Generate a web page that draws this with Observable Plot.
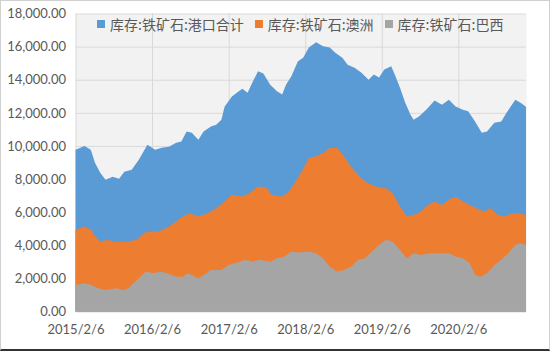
<!DOCTYPE html>
<html>
<head>
<meta charset="utf-8">
<script src="https://cdn.jsdelivr.net/npm/d3@7"></script>
<script src="https://cdn.jsdelivr.net/npm/@observablehq/plot@0.6"></script>
<style>
  html, body { margin: 0; padding: 0; background: #fff; }
  #wrap { position: relative; width: 550px; height: 351px; background: #fff; overflow: hidden; }
  #wrap svg { position: absolute; left: 0; top: 0; }
  #legend { position: absolute; left: 97px; top: 16px; display: flex; align-items: center;
            font-family: "Noto Sans CJK SC", sans-serif; font-size: 14px; line-height: 16px; color: #595959; white-space: nowrap; }
  #legend .item { display: flex; align-items: center; margin-right: 11px; }
  #legend .sw { width: 8px; height: 8px; margin-right: 5px; }
  #border { position: absolute; left: 0; top: 0; width: 550px; height: 351px; box-sizing: border-box;
            border: 1px solid #d0d0d0; border-bottom: 2px solid #333; pointer-events: none; }
</style>
</head>
<body>
<div id="wrap"><div id="legend"></div><div id="border"></div></div>
<script>
const seriesNames = ["库存:铁矿石:港口合计", "库存:铁矿石:澳洲", "库存:铁矿石:巴西"];
const seriesColors = ["#5b9bd5", "#ed7d31", "#a5a5a5"];

const portDates = ["2015-02-06","2015-03-21","2015-04-20","2015-05-10","2015-06-04","2015-06-29","2015-08-02","2015-09-02","2015-09-27","2015-11-01","2015-12-05","2016-01-15","2016-02-21","2016-03-23","2016-04-27","2016-05-31","2016-06-25","2016-07-20","2016-08-14","2016-09-14","2016-10-09","2016-11-13","2016-12-08","2017-01-02","2017-01-17","2017-02-21","2017-03-26","2017-04-12","2017-05-07","2017-06-01","2017-06-26","2017-07-21","2017-08-23","2017-09-24","2017-10-19","2017-11-06","2017-12-01","2018-01-02","2018-01-27","2018-02-23","2018-03-30","2018-05-02","2018-06-03","2018-06-28","2018-08-02","2018-08-27","2018-09-29","2018-10-31","2018-12-05","2018-12-30","2019-01-24","2019-02-18","2019-03-23","2019-04-09","2019-05-04","2019-05-29","2019-06-23","2019-07-08","2019-08-02","2019-09-06","2019-10-16","2019-11-20","2019-12-23","2020-01-24","2020-02-28","2020-03-24","2020-04-26","2020-05-28","2020-06-22","2020-07-27","2020-08-29","2020-09-23","2020-11-04","2020-11-29","2020-12-25"];
const portValues = [9770,10000,9770,8980,8380,7960,8140,8020,8440,8560,9160,10070,9770,9890,9950,10190,10270,10880,10800,10370,10880,11180,11280,11580,12370,12980,13300,13460,13220,13900,14510,14370,13700,13300,13100,13700,14200,15110,15330,15940,16260,16020,15940,15640,15330,14910,14730,14430,14000,14310,14130,14610,14810,14310,13520,12610,11890,11580,11780,12190,12740,12490,12790,12390,12190,12090,11480,10800,10880,11400,11480,12000,12790,12610,12370];

const ausDates = ["2015-02-06","2015-03-21","2015-04-23","2015-05-10","2015-06-04","2015-07-07","2015-08-18","2015-10-07","2015-11-26","2015-12-30","2016-01-24","2016-03-08","2016-04-27","2016-05-31","2016-07-01","2016-08-06","2016-09-08","2016-10-09","2016-11-29","2017-01-17","2017-02-21","2017-04-12","2017-05-15","2017-06-26","2017-08-05","2017-08-30","2017-10-12","2017-11-13","2017-12-18","2018-01-20","2018-02-23","2018-03-30","2018-05-02","2018-06-03","2018-07-08","2018-08-10","2018-09-11","2018-10-16","2018-11-18","2019-01-07","2019-02-26","2019-03-30","2019-05-04","2019-06-06","2019-07-08","2019-08-12","2019-09-14","2019-10-16","2019-11-20","2019-12-23","2020-01-24","2020-02-28","2020-04-01","2020-05-03","2020-06-07","2020-07-10","2020-08-11","2020-09-15","2020-10-18","2020-11-19","2020-12-25"];
const ausValues = [4930,5130,4930,4530,4220,4330,4220,4220,4330,4740,4830,4830,5130,5430,5740,5940,5740,5840,6140,6640,7050,6950,7150,7550,7470,7050,6950,7150,7760,8460,9270,9370,9570,9870,9870,9370,8760,8260,7850,7550,7450,7150,6340,5740,5840,6040,6440,6640,6440,6750,6950,6640,6440,6240,6040,6240,5840,5740,5940,5940,5840];

const braDates = ["2015-02-06","2015-03-21","2015-04-23","2015-05-25","2015-06-29","2015-08-18","2015-09-21","2015-10-16","2015-11-26","2016-01-07","2016-02-12","2016-03-17","2016-04-19","2016-05-31","2016-07-01","2016-07-27","2016-09-14","2016-10-09","2016-11-13","2017-01-02","2017-02-05","2017-03-08","2017-04-27","2017-06-01","2017-07-04","2017-08-23","2017-09-24","2017-10-29","2017-12-01","2018-01-02","2018-02-23","2018-03-30","2018-05-02","2018-06-03","2018-07-08","2018-08-10","2018-09-11","2018-10-16","2018-11-18","2018-12-20","2019-01-24","2019-02-26","2019-03-30","2019-05-04","2019-06-06","2019-07-08","2019-08-12","2019-09-14","2019-11-20","2019-12-23","2020-01-24","2020-02-28","2020-04-01","2020-04-26","2020-05-21","2020-06-22","2020-07-27","2020-08-29","2020-10-01","2020-11-04","2020-11-29","2020-12-25"];
const braValues = [1600,1710,1600,1400,1300,1400,1300,1400,1900,2410,2310,2410,2310,2100,2100,2310,2010,2210,2510,2510,2810,2920,3120,3010,3120,3010,3220,3320,3620,3560,3620,3520,3220,2710,2410,2510,2710,3120,3220,3620,4020,4330,4220,3720,3220,3520,3420,3520,3520,3520,3320,3220,2920,2210,2100,2310,2810,3120,3520,4020,4120,4020];

const xTickLabels = ["2015-02-06","2016-02-06","2017-02-06","2018-02-06","2019-02-06","2020-02-06"];
const yTicks = [0,2000,4000,6000,8000,10000,12000,14000,16000,18000];

const parse = d3.utcParse("%Y-%m-%d");
const mk = (dates, values) => dates.map((d, i) => ({date: parse(d), value: values[i]}));
const port = mk(portDates, portValues);
const aus = mk(ausDates, ausValues);
const bra = mk(braDates, braValues);
const xTicks = xTickLabels.map(parse);

const chart = Plot.plot({
  width: 550,
  height: 351,
  marginLeft: 75.5,
  marginRight: 24,
  marginTop: 13.5,
  marginBottom: 39.5,
  style: {fontFamily: "Lato, sans-serif", fontSize: "13px", color: "#595959", background: "transparent", overflow: "visible"},
  x: {type: "utc", domain: [parse(portDates[0]), parse(portDates[portDates.length - 1])], label: null},
  y: {domain: [0, 18000], label: null},
  marks: [
    Plot.frame({fill: "#f2f2f2", stroke: null}),
    Plot.gridY(yTicks, {stroke: "#d9d9d9", strokeOpacity: 1}),
    Plot.gridX(xTicks, {stroke: "#d9d9d9", strokeOpacity: 1}),
    Plot.areaY(port, {x: "date", y: "value", fill: seriesColors[0]}),
    Plot.areaY(aus, {x: "date", y: "value", fill: seriesColors[1]}),
    Plot.areaY(bra, {x: "date", y: "value", fill: seriesColors[2]}),
    Plot.axisY(yTicks, {tickSize: 0, tickPadding: 10, tickFormat: d3.format(",.2f"), fill: "#595959", fontSize: 13}),
    Plot.axisX(xTicks, {tickSize: 0, tickPadding: 13, fill: "#595959", fontSize: 13,
      tickFormat: d => `${d.getUTCFullYear()}/${d.getUTCMonth() + 1}/${d.getUTCDate()}`})
  ]
});
const wrap = document.getElementById("wrap");
wrap.insertBefore(chart, wrap.firstChild);

const legend = document.getElementById("legend");
seriesNames.forEach((name, i) => {
  const item = document.createElement("div");
  item.className = "item";
  const sw = document.createElement("div");
  sw.className = "sw";
  sw.style.background = seriesColors[i];
  const t = document.createElement("span");
  t.textContent = name;
  item.appendChild(sw);
  item.appendChild(t);
  legend.appendChild(item);
});
</script>
</body>
</html>
